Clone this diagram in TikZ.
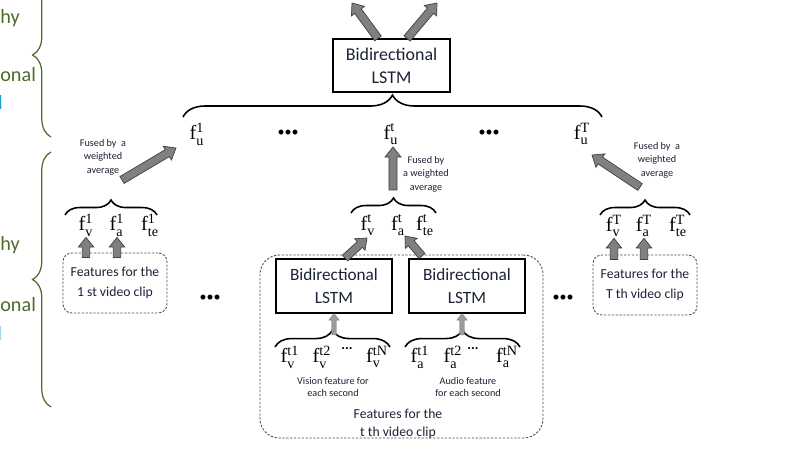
\documentclass[tikz,border=0pt]{standalone}
\usepackage{fontspec}
\setmainfont{Carlito}
\setmathrm{Liberation Serif}
\usetikzlibrary{positioning, calc, decorations.pathreplacing}
\definecolor{oliveGreen}{HTML}{4F6B2A}
\definecolor{labelBlue}{HTML}{1E9BD7}
\definecolor{inkDark}{HTML}{1C2236}
\definecolor{arrowGray}{HTML}{808080}
\definecolor{arrowEdge}{HTML}{404040}
\definecolor{lightArrow}{HTML}{9A9A9A}

% block arrow: style, from, to, half shaft, half head
\newcommand{\blockarrow}[5]{%
  \coordinate (hb) at ($(#3)!1.25*#5!(#2)$);
  \filldraw[#1] ($(#2)!#4!90:(#3)$) -- ($(hb)!#4!-90:(#2)$) -- ($(hb)!#5!-90:(#2)$) -- (#3)
    -- ($(hb)!#5!90:(#2)$) -- ($(hb)!#4!90:(#2)$) -- ($(#2)!#4!-90:(#3)$) -- cycle;
}
\newcommand{\fsym}[2]{$\mathrm{f}^{\mathrm{#2}}_{\mathrm{#1}}$}

\begin{document}
\begin{tikzpicture}[x=0.02cm, y=-0.02cm,
    lstmbox/.style={rectangle, draw, line width=0.6pt, minimum width=2.32cm, minimum height=1.08cm, align=center, inner sep=0pt, text=inkDark, font=\fontsize{9.8}{13.5}\selectfont},
    clipbox/.style={rectangle, draw=black!70, dash pattern=on 1.3pt off 0.9pt, line width=0.5pt, rounded corners=5pt, minimum width=2.08cm, minimum height=1.2cm, align=center, inner sep=0pt, text=inkDark, font=\fontsize{7.8}{11}\selectfont},
    feat/.style={inner sep=0.5pt, font=\fontsize{11.5}{12}\selectfont},
    note/.style={align=center, inner sep=0pt, text=inkDark, font=\fontsize{5.8}{7.7}\selectfont},
    dots/.style={inner sep=0pt, font=\fontsize{8}{8}\selectfont},
    fbrace/.style={decorate, decoration={brace, amplitude=#1}, line width=0.9pt},
    fbrace/.default=8.5pt,
    sidebrace/.style={decorate, decoration={brace, amplitude=10.5pt}, draw=oliveGreen, line width=0.7pt},
    sidetext/.style={anchor=west, inner sep=0pt, text=oliveGreen, font=\fontsize{11.5}{12}\selectfont},
    fatarrow/.style={fill=arrowGray, draw=arrowEdge, line width=0.4pt},
    thinarrow/.style={fill=lightArrow, draw=lightArrow!85!black, line width=0.2pt}
]
\useasboundingbox (0,0) rectangle (808,455);
\clip (0,0) rectangle (808,455);

% left side labels and braces
\node[sidetext] (hyTop) at (0,18) {hy};
\node[sidetext] (onalTop) at (0,75) {onal};
\node[sidetext, text=labelBlue, anchor=east] (blueTop) at (3,102) {l};
\node[sidetext] (hyLow) at (0,245) {hy};
\node[sidetext] (onalLow) at (0,305) {onal};
\node[sidetext, text=labelBlue!40, anchor=east] (blueLow) at (3,333) {l};
\draw[sidebrace] (51,137) -- (51,-27);
\draw[sidebrace] (51,407) -- (51,152);

% top level
\node[lstmbox, minimum width=2.34cm, minimum height=1.06cm, font=\fontsize{10.2}{13}\selectfont] (lstmTop) at (391.5,65.5) {Bidirectional\\LSTM};
\coordinate (outL) at (352,3);
\coordinate (outR) at (437,3);
\coordinate (topL) at ([xshift=-0.27cm]lstmTop.north);
\coordinate (topR) at ([xshift=0.31cm]lstmTop.north);
\blockarrow{fatarrow}{topL}{outL}{2.3pt}{4.6pt}
\blockarrow{fatarrow}{topR}{outR}{2.3pt}{4.6pt}

\draw[fbrace=12.5pt] (183,117) -- (602,117);
\node[feat] (fu1) at (197,134) {\fsym{u}{1}};
\node[dots] (dotsU1) at (288,133) {\textbullet\textbullet\textbullet};
\node[feat] (fut) at (391,134) {\fsym{u}{t}};
\node[dots] (dotsU2) at (489,133) {\textbullet\textbullet\textbullet};
\node[feat] (fuT) at (582,134) {\fsym{u}{T}};

% 1st clip
\node[clipbox] (clip1) at (115,283) {Features for the\\1 st video clip};
\node[feat] (fv1) at (86,225) {\fsym{v}{1}};
\node[feat] (fa1) at (117,225) {\fsym{a}{1}};
\node[feat] (fte1) at (150,225) {\fsym{te}{1}};
\draw[fbrace] (65,215) -- (157,215);
\path (fv1.south |- clip1.north) ++(0,5) coordinate (v1b);
\path (fa1.south |- clip1.north) ++(0,5) coordinate (a1b);
\blockarrow{fatarrow}{v1b}{fv1.south}{2.2pt}{4.4pt}
\blockarrow{fatarrow}{a1b}{fa1.south}{2.2pt}{4.4pt}
\coordinate (fuse1a) at (122,180);
\coordinate (fuse1b) at (176,148);
\blockarrow{fatarrow}{fuse1a}{fuse1b}{2.3pt}{4.6pt}
\node[note] (note1) at (103,157) {Fused by~~a\\weighted\\average};

\node[dots] (dotsC1) at (210,298) {\textbullet\textbullet\textbullet};

% t-th clip
\node[clipbox, minimum width=5.66cm, minimum height=3.66cm, rounded corners=11pt] (clipt) at (401.5,346.5) {};
\node[lstmbox] (lstmV) at (334,286) {Bidirectional\\LSTM};
\node[lstmbox] (lstmA) at (467,286) {Bidirectional\\LSTM};
\node[feat] (fvt) at (368,225) {\fsym{v}{t}};
\node[feat] (fat) at (398,225) {\fsym{a}{t}};
\node[feat] (ftet) at (425,225) {\fsym{te}{t}};
\draw[fbrace] (351,213) -- (436,213);
\coordinate (fvtb) at (345,258);
\coordinate (fvtt) at (367,238);
\coordinate (fatb) at (422,256);
\coordinate (fatt) at (405,236);
\blockarrow{fatarrow}{fvtb}{fvtt}{2.2pt}{4.4pt}
\blockarrow{fatarrow}{fatb}{fatt}{2.2pt}{4.4pt}
\coordinate (fusetb) at (393,190);
\coordinate (fusett) at (393,147);
\blockarrow{fatarrow}{fusetb}{fusett}{2.3pt}{4.6pt}
\node[note] (notet) at (426,174) {Fused by\\a weighted\\average};

\node[feat] (fv1s) at (290,357) {\fsym{v}{t1}};
\node[feat] (fv2s) at (322,357) {\fsym{v}{t2}};
\node[inner sep=0pt, font=\fontsize{8}{8}\selectfont\bfseries] (fvdots) at (347,349) {...};
\node[feat] (fvNs) at (377,357) {\fsym{v}{tN}};
\node[feat] (fa1s) at (420,357) {\fsym{a}{t1}};
\node[feat] (fa2s) at (453,357) {\fsym{a}{t2}};
\node[inner sep=0pt, font=\fontsize{8}{8}\selectfont\bfseries] (fadots) at (473,349) {...};
\node[feat] (faNs) at (507,357) {\fsym{a}{tN}};
\draw[fbrace=9.6pt] (275,347) -- (390,347);
\draw[fbrace=9.6pt] (405,347) -- (520,347);
\coordinate (visb) at (334,335);
\coordinate (audb) at (462,335);
\blockarrow{thinarrow}{visb}{lstmV.south}{1.3pt}{3pt}
\blockarrow{thinarrow}{audb}{lstmA.south -| audb}{1.3pt}{3pt}
\node[note, font=\fontsize{5.8}{6.8}\selectfont] (visNote) at (333,387) {Vision feature for\\each second};
\node[note, font=\fontsize{5.8}{6.8}\selectfont] (audNote) at (468,387) {Audio feature\\for each second};
\node[inner sep=0pt, align=center, text=inkDark, font=\fontsize{7.8}{10}\selectfont] (cliptTxt) at (398,424) {Features for the\\t th video clip};

\node[dots] (dotsC2) at (563,298) {\textbullet\textbullet\textbullet};

% T-th clip
\node[clipbox] (clipT) at (645,285) {Features for the\\T th video clip};
\node[feat] (fvT) at (614,226) {\fsym{v}{T}};
\node[feat] (faT) at (644,226) {\fsym{a}{T}};
\node[feat] (fteT) at (678,226) {\fsym{te}{T}};
\draw[fbrace] (600,215) -- (690,215);
\path (fvT.south |- clipT.north) ++(0,5) coordinate (vTb);
\path (faT.south |- clipT.north) ++(0,5) coordinate (aTb);
\blockarrow{fatarrow}{vTb}{fvT.south}{2.2pt}{4.4pt}
\blockarrow{fatarrow}{aTb}{faT.south}{2.2pt}{4.4pt}
\coordinate (fuseTa) at (640,187);
\coordinate (fuseTb) at (592,155);
\blockarrow{fatarrow}{fuseTa}{fuseTb}{2.3pt}{4.6pt}
\node[note] (noteT) at (657,160) {Fused by~~a\\weighted\\average};

\end{tikzpicture}
\end{document}
